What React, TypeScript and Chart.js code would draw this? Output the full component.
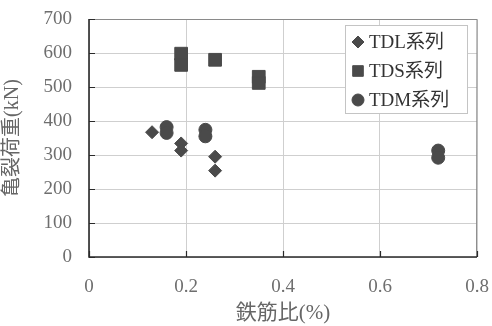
import { useEffect, useRef } from 'react';
import { Chart, registerables } from 'chart.js';
import { drawPoint } from 'chart.js/helpers';

Chart.register(...registerables);

const seriesNames = ['TDL系列', 'TDS系列', 'TDM系列'];
const seriesStyles = ['rectRot', 'rect', 'circle'];
const seriesRadius = [6.5, 9, 6.5];

const tdlX = [0.13, 0.19, 0.19, 0.26, 0.26];
const tdlY = [367, 334, 313, 295, 254];

const tdsX = [0.19, 0.19, 0.26, 0.35, 0.35];
const tdsY = [598, 565, 580, 530, 512];

const tdmX = [0.16, 0.16, 0.24, 0.24, 0.72, 0.72];
const tdmY = [382, 365, 374, 355, 313, 292];

const xTicks = [0, 0.2, 0.4, 0.6, 0.8];
const yTicks = [0, 100, 200, 300, 400, 500, 600, 700];

const xTitle = '鉄筋比(%)';
const yTitle = '亀裂荷重(kN)';

const FONT = "'Liberation Serif', 'Noto Sans CJK JP', serif";
const MARK = '#4a4a4a';

const toPoints = (xs: number[], ys: number[]) => xs.map((x, i) => ({ x, y: ys[i] }));

const framePlugin = {
  id: 'frame',
  beforeDatasetsDraw(chart: any) {
    const { ctx, chartArea: a, scales } = chart;
    ctx.save();
    ctx.strokeStyle = '#8a8a8a';
    ctx.lineWidth = 1;
    ctx.beginPath();
    ctx.moveTo(a.left, a.top + 0.5);
    ctx.lineTo(a.right, a.top + 0.5);
    ctx.lineTo(a.right - 0.5, a.bottom);
    ctx.stroke();
    ctx.strokeStyle = '#2a2a2a';
    ctx.lineWidth = 1.6;
    ctx.beginPath();
    ctx.moveTo(a.left, a.top);
    ctx.lineTo(a.left, a.bottom);
    ctx.lineTo(a.right, a.bottom);
    ctx.stroke();
    ctx.lineWidth = 1.2;
    ctx.beginPath();
    yTicks.forEach((v) => {
      const y = Math.round(scales.y.getPixelForValue(v)) + 0.5;
      ctx.moveTo(a.left, y);
      ctx.lineTo(a.left + 6, y);
    });
    xTicks.forEach((v) => {
      const x = Math.round(scales.x.getPixelForValue(v)) + 0.5;
      ctx.moveTo(x, a.bottom);
      ctx.lineTo(x, a.bottom - 6);
    });
    ctx.stroke();
    ctx.restore();
  },
};

const legendPlugin = {
  id: 'boxLegend',
  afterDatasetsDraw(chart: any) {
    const { ctx, chartArea: a } = chart;
    const w = 122;
    const h = 88;
    const left = a.right - w - 10;
    const top = a.top + 6;
    ctx.save();
    ctx.fillStyle = '#ffffff';
    ctx.fillRect(left, top, w, h);
    ctx.strokeStyle = '#c4c4c4';
    ctx.lineWidth = 1;
    ctx.strokeRect(left + 0.5, top + 0.5, w, h);
    ctx.font = `19px ${FONT}`;
    ctx.textBaseline = 'middle';
    ctx.textAlign = 'left';
    chart.data.datasets.forEach((ds: any, i: number) => {
      const cy = top + 17 + i * 29;
      ctx.fillStyle = MARK;
      ctx.strokeStyle = MARK;
      drawPoint(ctx, { pointStyle: seriesStyles[i], radius: i === 1 ? 7.5 : 6, borderWidth: 1, rotation: 0 }, left + 13, cy);
      ctx.fillStyle = '#333';
      ctx.fillText(ds.label, left + 24, cy + 1);
    });
    ctx.restore();
  },
};

const zeroPad = (s: any) => {
  s.paddingTop = 0;
  s.paddingBottom = 0;
  s.paddingLeft = 0;
  s.paddingRight = 0;
};

export default function App() {
  const ref = useRef<HTMLCanvasElement | null>(null);

  useEffect(() => {
    document.body.style.margin = '0';
    const canvas = ref.current;
    if (!canvas) return;
    const sets = [toPoints(tdlX, tdlY), toPoints(tdsX, tdsY), toPoints(tdmX, tdmY)];
    const chart = new Chart(canvas, {
      type: 'scatter',
      data: {
        datasets: sets.map((d, i) => ({
          label: seriesNames[i],
          data: d,
          pointStyle: seriesStyles[i] as any,
          pointRadius: seriesRadius[i],
          pointHoverRadius: seriesRadius[i],
          backgroundColor: MARK,
          borderColor: MARK,
          borderWidth: 1,
        })),
      },
      options: {
        animation: false,
        responsive: false,
        events: [],
        layout: { padding: { top: 19, right: 15, left: 0, bottom: 0 } },
        plugins: {
          legend: { display: false },
          tooltip: { enabled: false },
        },
        scales: {
          x: {
            type: 'linear',
            min: 0,
            max: 0.8,
            afterBuildTicks: (s: any) => {
              s.ticks = xTicks.map((v) => ({ value: v }));
            },
            afterFit: (s: any) => {
              s.height = 69;
              zeroPad(s);
            },
            ticks: {
              color: '#6e6e6e',
              font: { family: FONT, size: 19 },
              padding: 19,
              maxRotation: 0,
              callback: (v: any) => String(v),
            },
            grid: { color: '#cfcfcf', lineWidth: 1, drawTicks: false },
            border: { display: false },
            title: {
              display: true,
              text: xTitle,
              color: '#666',
              font: { family: FONT, size: 21 },
              padding: { top: 0, bottom: 0 },
            },
          },
          y: {
            type: 'linear',
            min: 0,
            max: 700,
            afterBuildTicks: (s: any) => {
              s.ticks = yTicks.map((v) => ({ value: v }));
            },
            afterFit: (s: any) => {
              s.width = 89;
              zeroPad(s);
            },
            ticks: {
              color: '#6e6e6e',
              font: { family: FONT, size: 19 },
              padding: 17,
            },
            grid: { color: '#cfcfcf', lineWidth: 1, drawTicks: false },
            border: { display: false },
            title: {
              display: true,
              text: yTitle,
              color: '#666',
              font: { family: FONT, size: 20 },
              padding: { top: 1, bottom: 0 },
            },
          },
        },
      },
      plugins: [framePlugin, legendPlugin],
    });
    return () => chart.destroy();
  }, []);

  return (
    <div style={{ position: 'relative', width: 492, height: 326, background: '#fff' }}>
      <canvas ref={ref} width={492} height={326} style={{ display: 'block' }} />
    </div>
  );
}
